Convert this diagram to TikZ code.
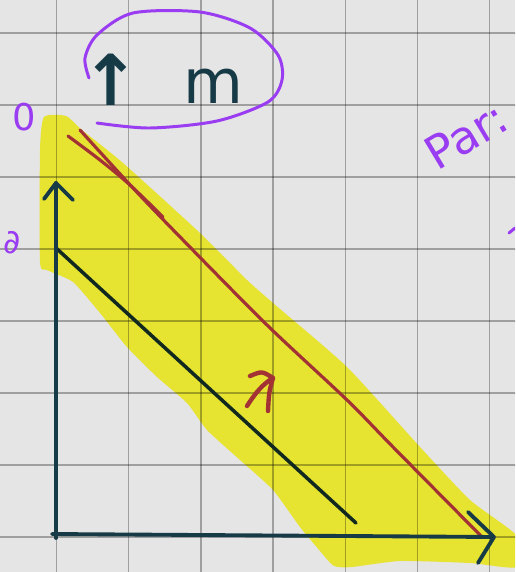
\documentclass[tikz,border=0pt]{standalone}
\usepackage{fontspec}
\setmainfont{DejaVu Sans}
\definecolor{paper}{HTML}{E5E5E5}
\definecolor{marker}{HTML}{E6E331}
\definecolor{ink}{HTML}{163A46}
\definecolor{inkgreen}{HTML}{11291E}
\definecolor{redink}{HTML}{A23234}
\definecolor{penviolet}{HTML}{9A3CF2}
\begin{document}
\begin{tikzpicture}[x=0.02cm,y=-0.02cm,line cap=round,line join=round,
    axisline/.style={ink,line width=2.2pt},
    inkline/.style={inkgreen,line width=2pt},
    redpen/.style={redink,line width=1.8pt},
    violetpen/.style={penviolet,line width=1.7pt},
    violettext/.style={penviolet,inner sep=0pt}]
    \useasboundingbox (0,0) rectangle (515,572);
    \clip (0,0) rectangle (515,572);
    \fill[paper] (0,0) rectangle (515,572);
    % highlighter
    \fill[marker] plot[smooth cycle,tension=0.35] coordinates {(44,117) (66,116) (82,130) (123,163) (200,233)
        (247,280) (273,303) (347,367) (420,447) (470,500) (517,536) (517,567) (470,563) (400,561)
        (352,567) (334,566) (320,551) (300,527) (273,490) (240,460) (207,430) (187,403) (157,377)
        (127,347) (100,313) (73,282) (47,270) (40,262) (40,150)};
    % grid
    \foreach \i in {0,...,6}
        \draw[black,opacity=0.3,line width=0.9pt] ({56.5+72.2*\i},0) -- ({56.5+72.2*\i},572);
    \foreach \j in {0,...,7}
        \draw[black,opacity=0.3,line width=0.9pt] (0,{33+72*\j}) -- (515,{33+72*\j});
    % lines
    \coordinate (a) at (56,248);
    \coordinate (b) at (356,523);
    \draw[inkline] (a) -- (b);
    \draw[redpen] plot[smooth] coordinates {(80,130) (133,188) (183,240) (267,325) (347,400) (393,447) (482,537)};
    \draw[redpen] plot[smooth] coordinates {(68,136) (100,160) (130,185) (163,217)};
    \coordinate (tip) at (273,378);
    \draw[redink,line width=2.5pt] (247,406) .. controls (256,392) and (263,384) .. (tip);
    \draw[redink,line width=2.5pt] (250,376) .. controls (262,371) .. (tip) .. controls (269,392) .. (268,411);
    % axes
    \coordinate (O) at (56,535);
    \coordinate (ytop) at (56,183);
    \coordinate (xend) at (494,537);
    \draw[axisline] (ytop) -- (56,538);
    \draw[axisline] (52,534) -- (xend);
    \draw[axisline] (44,199) -- (ytop) -- (73,200);
    \draw[axisline] (468,512) -- (xend) -- (478,563);
    % labels
    \node[ink,inner sep=0pt,font=\fontsize{40}{40}\selectfont\bfseries] (up) at (111,80) {↑};
    \node[ink,inner sep=0pt,font=\fontsize{35}{35}\selectfont] (m) at (213,86) {m};
    \draw[violetpen] plot[smooth] coordinates {(89,78) (85,58) (97,35) (133,13) (200,12) (250,28)
        (278,55) (282,80) (268,102) (217,121) (150,128) (97,123)};
    \node[violettext,font=\fontsize{21}{21}\selectfont] (zero) at (24,117) {0};
    \node[violettext,font=\fontsize{19}{19}\selectfont] (dlabel) at (12,243) {∂};
    \node[violettext,font=\fontsize{26}{26}\selectfont,rotate=31,anchor=base west] (par) at (437,172) {Par:};
    \draw[violetpen] (509,233) -- (515,228);
\end{tikzpicture}
\end{document}
